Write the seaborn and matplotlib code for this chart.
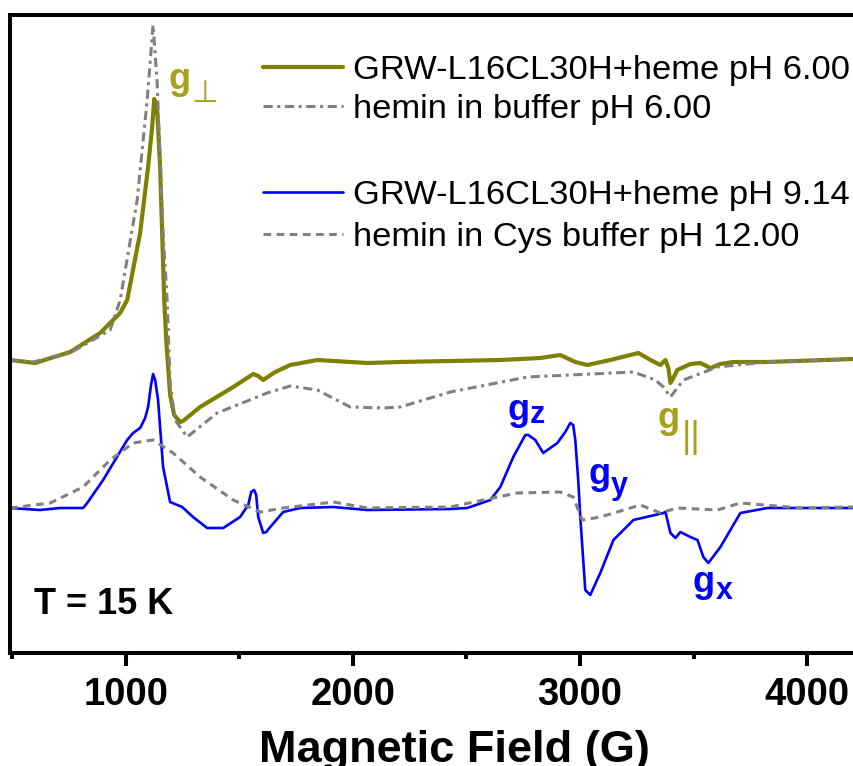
import numpy as np
import pandas as pd
import matplotlib
matplotlib.use("Agg")
import matplotlib.pyplot as plt
from matplotlib.lines import Line2D
from matplotlib.ticker import MultipleLocator
import seaborn as sns

# ---------------- data (field in G, intensity in arbitrary units) ----------------
field_p6 = [490, 600, 755, 887, 975, 1006, 1063, 1098, 1116, 1125, 1138, 1151, 1160, 1169,
            1178, 1195, 1213, 1239, 1252, 1327, 1473, 1561, 1583, 1605, 1658, 1724, 1843,
            2063, 2208, 2429, 2649, 2825, 2913, 2979, 3032, 3133, 3257, 3310, 3354, 3376,
            3389, 3398, 3411, 3428, 3486, 3530, 3574, 3618, 3675, 3825, 4204, 4400]
int_p6 = [293, 290, 301, 320, 340, 353, 420, 486, 526, 554, 543, 486, 420, 353,
          313, 258, 238, 231, 232, 246, 266, 279, 277, 273, 281, 288, 293,
          290, 291, 292, 293, 295, 298, 291, 288, 293, 300, 293, 288, 293,
          285, 270, 275, 283, 289, 290, 285, 289, 291, 291, 294, 294]

field_hemin6 = [490, 592, 755, 931, 975, 1050, 1094, 1120, 1138, 1164, 1182, 1195, 1217,
                1270, 1402, 1622, 1724, 1843, 1988, 2133, 2208, 2429, 2768, 3235, 3332,
                3367, 3398, 3455, 3605, 3825, 4116, 4204, 4400]
int_hemin6 = [293, 291, 300, 323, 353, 453, 553, 628, 570, 420, 353, 270, 233,
              216, 240, 260, 267, 263, 246, 245, 246, 261, 276, 281, 273,
              266, 256, 273, 286, 291, 293, 294, 294]

field_p914 = [490, 622, 711, 812, 830, 900, 953, 1006, 1032, 1063, 1085, 1098, 1111, 1120,
              1129, 1142, 1164, 1195, 1248, 1296, 1358, 1429, 1503, 1539, 1552, 1565, 1574,
              1583, 1605, 1618, 1636, 1693, 1768, 1913, 2063, 2429, 2503, 2605, 2649, 2706,
              2759, 2772, 2803, 2838, 2900, 2935, 2957, 2970, 2979, 2992, 3001, 3023, 3045,
              3089, 3147, 3235, 3367, 3376, 3398, 3420, 3442, 3486, 3517, 3543, 3565, 3618,
              3706, 3825, 4204, 4400]
int_p914 = [145, 143, 145, 145, 150, 173, 193, 213, 220, 225, 235, 246, 268, 279,
            273, 253, 186, 151, 146, 136, 125, 125, 136, 148, 161, 163, 158,
            136, 120, 121, 126, 141, 145, 146, 143, 144, 145, 153, 166, 196,
            218, 218, 213, 200, 210, 221, 230, 228, 213, 173, 136, 63, 58,
            80, 113, 133, 140, 141, 120, 115, 121, 116, 113, 96, 90, 106,
            140, 145, 145, 145]

field_cys12 = [490, 667, 812, 931, 1032, 1120, 1208, 1327, 1473, 1592, 1693, 1913, 2063,
               2429, 2574, 2724, 2913, 2970, 3010, 3089, 3266, 3354, 3428, 3605, 3706,
               3970, 4204, 4400]
int_cys12 = [145, 150, 166, 193, 210, 213, 200, 176, 153, 141, 145, 151, 145,
             146, 153, 160, 161, 156, 133, 136, 148, 140, 145, 143, 150,
             145, 146, 146]

labels = ["GRW-L16CL30H+heme pH 6.00", "hemin in buffer pH 6.00",
          "GRW-L16CL30H+heme pH 9.14", "hemin in Cys buffer pH 12.00"]
major_ticks = [1000, 2000, 3000, 4000]

# ---------------- style ----------------
sns.set_style("ticks")
plt.rcParams["font.family"] = ["Liberation Sans", "DejaVu Sans"]
plt.rcParams["text.color"] = "black"
plt.rcParams["axes.labelcolor"] = "black"
plt.rcParams["xtick.color"] = "black"
plt.rcParams["xtick.labelcolor"] = "black"

OLIVE = "#808000"
GLABEL = "#a89f1c"
GRAY = "#808080"
BLUE = "#0000ff"
dashdot = (0, (3, 1.5, 1, 1.5))
dashed = (0, (2.5, 1.8))

fig = plt.figure(figsize=(8.54, 7.66), dpi=100)
ax = fig.add_axes([10 / 854, 113 / 766, 888 / 854, 638 / 766])

sns.lineplot(x=field_p6, y=int_p6, ax=ax, color=OLIVE, lw=3.0, sort=False, legend=False)
sns.lineplot(x=field_hemin6, y=int_hemin6, ax=ax, color=GRAY, lw=2.2, linestyle=dashdot,
             sort=False, legend=False)
sns.lineplot(x=field_p914, y=int_p914, ax=ax, color=BLUE, lw=1.9, sort=False, legend=False)
sns.lineplot(x=field_cys12, y=int_cys12, ax=ax, color=GRAY, lw=2.2, linestyle=dashed,
             sort=False, legend=False)

ax.set_xlim(490, 4400)
ax.set_ylim(0, 638)
ax.set_yticks([])
ax.set_ylabel("")
ax.set_xticks(major_ticks)
ax.xaxis.set_minor_locator(MultipleLocator(500))
ax.tick_params(axis="x", which="major", direction="out", length=9.4, width=2.9, pad=8,
               labelsize=27.5, colors="black")
ax.tick_params(axis="x", which="minor", direction="out", length=4.3, width=2.9, colors="black")
for lab in ax.get_xticklabels():
    lab.set_fontweight("bold")
for sp in ax.spines.values():
    sp.set_linewidth(2.9)
    sp.set_color("black")
    sp.set_visible(True)

ax.set_xlabel("Magnetic Field (G)", fontsize=32.5, fontweight="bold", labelpad=12,
              color="black")

# ---------------- legends (two groups) ----------------
leg_kw = dict(loc="upper left", frameon=False, fontsize=24.8, handlelength=2.33,
              handletextpad=0.29, borderpad=0, borderaxespad=0)
h_a = [Line2D([], [], color=OLIVE, lw=3.0),
       Line2D([], [], color=GRAY, lw=2.2, linestyle=dashdot)]
leg_a = fig.legend(h_a, labels[:2], bbox_to_anchor=(263 / 854, 1 - 55 / 766),
                   labelspacing=0.23, **leg_kw)
h_b = [Line2D([], [], color=BLUE, lw=1.9),
       Line2D([], [], color=GRAY, lw=2.2, linestyle=dashed)]
leg_b = fig.legend(h_b, labels[2:], bbox_to_anchor=(263 / 854, 1 - 180 / 766),
                   labelspacing=0.3, **leg_kw)
for lg in (leg_a, leg_b):
    for t in lg.get_texts():
        t.set_color("black")

# ---------------- annotations ----------------
gfs = 26
ax.text(1186, 564, "g", color=GLABEL, fontsize=gfs, fontweight="bold", va="baseline")
ax.text(1288, 551, "\u22a5", color=GLABEL, fontsize=22, family=["DejaVu Sans"], va="baseline")

ax.text(3340, 225, "g", color=GLABEL, fontsize=gfs, fontweight="bold", va="baseline")
ax.text(3446, 206, "||", color=GLABEL, fontsize=26, va="baseline")

ax.text(2680, 233, "g", color=BLUE, fontsize=gfs, fontweight="bold", va="baseline")
ax.text(2780, 230, "z", color=BLUE, fontsize=22, fontweight="bold", va="baseline")
ax.text(3036, 169, "g", color=BLUE, fontsize=gfs, fontweight="bold", va="baseline")
ax.text(3135, 159, "y", color=BLUE, fontsize=22, fontweight="bold", va="baseline")
ax.text(3495, 61, "g", color=BLUE, fontsize=gfs, fontweight="bold", va="baseline")
ax.text(3597, 54, "x", color=BLUE, fontsize=22, fontweight="bold", va="baseline")

ax.text(596, 39, "T = 15 K", color="black", fontsize=26, fontweight="bold", va="baseline")

fig.savefig("out.png", dpi=100)
